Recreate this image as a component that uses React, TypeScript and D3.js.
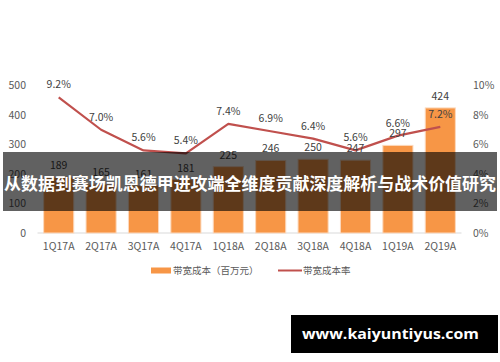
import React, { useEffect, useRef } from "react";
import * as d3 from "d3";

const categories = ["1Q17A", "2Q17A", "3Q17A", "4Q17A", "1Q18A", "2Q18A", "3Q18A", "4Q18A", "1Q19A", "2Q19A"];
const costValues = [189, 165, 161, 181, 225, 246, 250, 247, 297, 424]; // 带宽成本（百万元）
const rateValues = [9.2, 7.0, 5.6, 5.4, 7.4, 6.9, 6.4, 5.6, 6.6, 7.2]; // 带宽成本率 %
const leftTicks = [0, 100, 200, 300, 400, 500];
const rightTicks = [0, 2, 4, 6, 8, 10];

const title = "从数据到赛场凯恩德甲进攻端全维度贡献深度解析与战术价值研究";
const watermark = "www.kaiyuntiyus.com";
const legendBar = "带宽成本（百万元）";
const legendLine = "带宽成本率";

const W = 500;
const H = 362;
const FONT = "'Noto Sans CJK SC', 'Noto Sans', sans-serif";

const App = () => {
  const svgRef = useRef<SVGSVGElement | null>(null);

  useEffect(() => {
    const svg = d3.select(svgRef.current);
    svg.selectAll("*").remove();

    const x = d3.scaleBand().domain(categories).range([37.5, 461.5]).paddingInner(0.29).paddingOuter(0.145);
    const yL = d3.scaleLinear().domain([0, 500]).range([233, 85.5]);
    const yR = d3.scaleLinear().domain([0, 10]).range([233, 85.5]);
    const cx = (i: number) => (x(categories[i]) as number) + x.bandwidth() / 2;

    svg.append("rect").attr("width", W).attr("height", H).attr("fill", "#fff");

    // baseline
    svg.append("line")
      .attr("x1", 37.5).attr("x2", 461.5)
      .attr("y1", yL(0)).attr("y2", yL(0))
      .attr("stroke", "#d9d9d9").attr("stroke-width", 1);

    // left axis
    const gl = svg.append("g")
      .attr("transform", "translate(26,0)")
      .call(d3.axisLeft(yL).tickValues(leftTicks).tickSize(0).tickPadding(0));
    gl.select(".domain").remove();
    gl.selectAll("text").attr("font-family", FONT).attr("font-size", 10.5).attr("fill", "#595959");

    // right axis
    const gr = svg.append("g")
      .attr("transform", "translate(473,0)")
      .call(d3.axisRight(yR).tickValues(rightTicks).tickSize(0).tickPadding(0).tickFormat((d) => `${d}%`));
    gr.select(".domain").remove();
    gr.selectAll("text").attr("font-family", FONT).attr("font-size", 10.5).attr("fill", "#595959");

    // bottom axis
    const gb = svg.append("g")
      .attr("transform", `translate(0,${yL(0)})`)
      .call(d3.axisBottom(x).tickSize(0).tickPadding(10));
    gb.select(".domain").remove();
    gb.selectAll("text").attr("font-family", FONT).attr("font-size", 10.5).attr("fill", "#595959");

    // bars
    svg.append("g")
      .selectAll("rect")
      .data(costValues)
      .enter()
      .append("rect")
      .attr("x", (_, i) => x(categories[i]) as number)
      .attr("y", (d) => yL(d))
      .attr("width", x.bandwidth())
      .attr("height", (d) => yL(0) - yL(d))
      .attr("fill", "#F79646")
      .attr("stroke", "#fcd9bd")
      .attr("stroke-width", 1);

    // line
    const rateLine = d3.line<number>()
      .x((_, i) => cx(i))
      .y((d) => yR(d));

    svg.append("path")
      .datum(rateValues)
      .attr("d", rateLine)
      .attr("fill", "none")
      .attr("stroke", "#C0504D")
      .attr("stroke-width", 2.2)
      .attr("stroke-linejoin", "round");

    // bar labels
    svg.append("g")
      .selectAll("text")
      .data(costValues)
      .enter()
      .append("text")
      .attr("x", (_, i) => cx(i))
      .attr("y", (d) => yL(d) - 8)
      .attr("text-anchor", "middle")
      .attr("font-family", FONT)
      .attr("font-size", 10.5)
      .attr("fill", "#404040")
      .text((d) => d);

    // line labels
    svg.append("g")
      .selectAll("text")
      .data(rateValues)
      .enter()
      .append("text")
      .attr("x", (_, i) => cx(i))
      .attr("y", (d) => yR(d) - 9)
      .attr("text-anchor", "middle")
      .attr("font-family", FONT)
      .attr("font-size", 10.5)
      .attr("fill", "#404040")
      .text((d) => `${d.toFixed(1)}%`);

    // legend
    const lg = svg.append("g").attr("font-family", FONT).attr("font-size", 9.5).attr("fill", "#595959");
    lg.append("rect").attr("x", 151).attr("y", 267.5).attr("width", 20).attr("height", 6).attr("fill", "#F79646");
    lg.append("text").attr("x", 173).attr("y", 274).text(legendBar);
    lg.append("line").attr("x1", 278).attr("x2", 302).attr("y1", 270.5).attr("y2", 270.5)
      .attr("stroke", "#C0504D").attr("stroke-width", 2);
    lg.append("text").attr("x", 303).attr("y", 274).text(legendLine);

    // title banner
    svg.append("rect").attr("x", 3).attr("y", 152).attr("width", 494).attr("height", 59)
      .attr("fill", "rgba(0,0,0,0.62)");
    svg.append("text")
      .attr("x", 250).attr("y", 190)
      .attr("text-anchor", "middle")
      .attr("font-family", FONT)
      .attr("font-weight", 700)
      .attr("font-size", 16.5)
      .attr("fill", "#fff")
      .attr("textLength", 492)
      .attr("lengthAdjust", "spacingAndGlyphs")
      .text(title);

    // watermark
    svg.append("rect").attr("x", 291).attr("y", 315).attr("width", 207).attr("height", 38).attr("fill", "#000");
    svg.append("text")
      .attr("x", 390.5).attr("y", 339)
      .attr("text-anchor", "middle")
      .attr("font-family", "'Open Sans', 'DejaVu Sans', sans-serif")
      .attr("font-weight", 700)
      .attr("font-size", 15)
      .attr("fill", "#fff")
      .attr("textLength", 177)
      .attr("lengthAdjust", "spacingAndGlyphs")
      .text(watermark);
  }, []);

  return (
    <div style={{ position: "absolute", left: 0, top: 0 }}>
      <svg ref={svgRef} width={W} height={H} style={{ display: "block" }}></svg>
    </div>
  );
};

export default App;
